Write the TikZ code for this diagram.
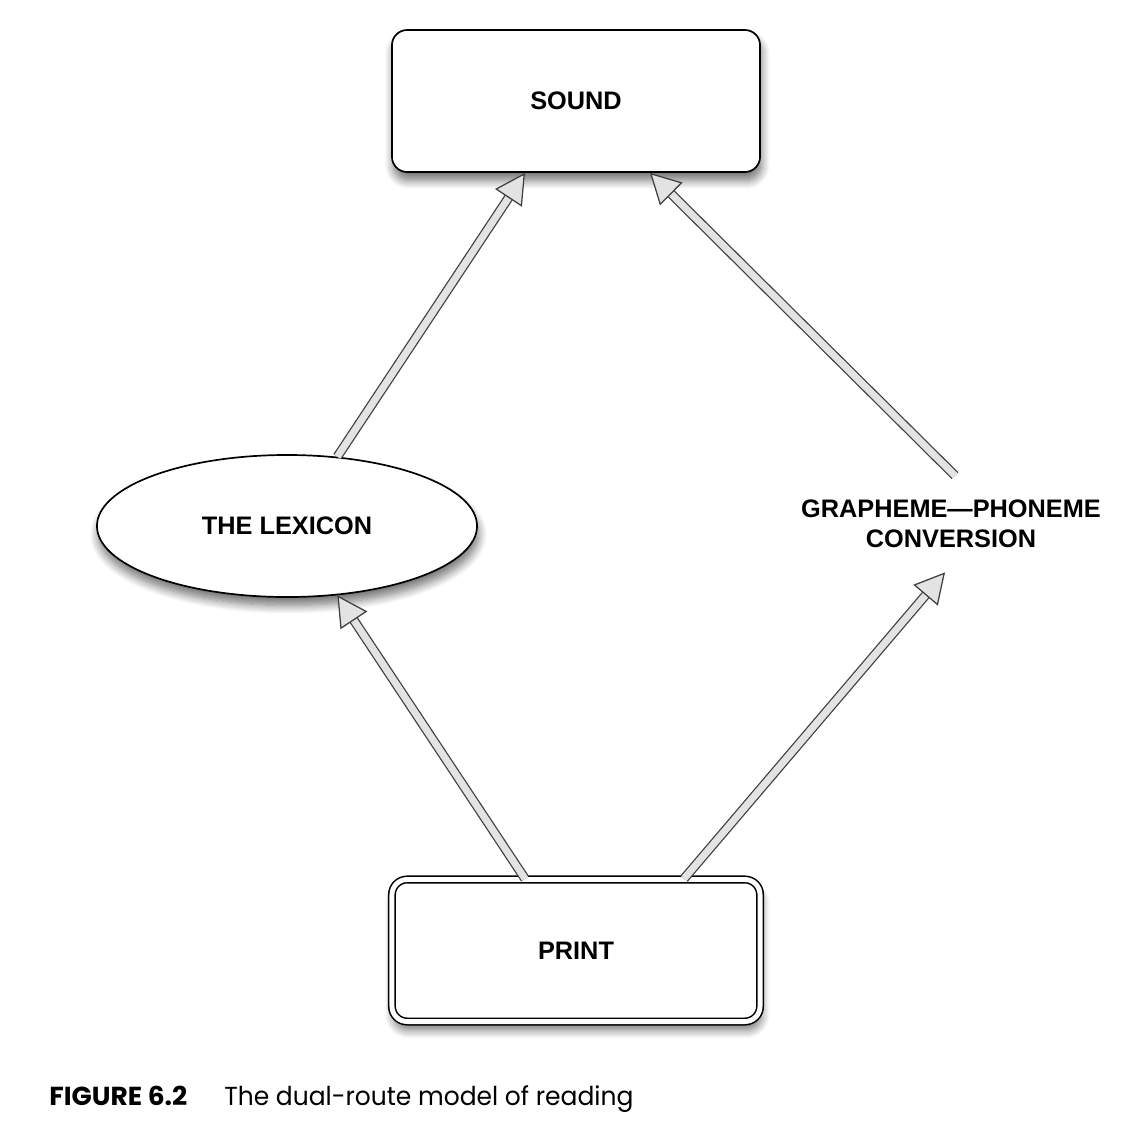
\documentclass[tikz,border=0pt]{standalone}
\usepackage{fontspec}
\setmainfont{Liberation Sans}
\newfontfamily\captionfont{Poppins}[FakeStretch = 0.96, BoldFeatures = {FakeStretch = 1.02}]
\usetikzlibrary{arrows.meta, shapes.geometric, shadows.blur, calc}

\tikzset{
	stage/.style = {draw, line width = 1.2pt, rounded corners = 0.38cm, fill = white,
		minimum width = 9.2cm, minimum height = 3.55cm,
		blur shadow = {shadow xshift = 1pt, shadow yshift = -6pt, shadow blur radius = 6pt,
			shadow blur steps = 10, shadow opacity = 55}},
	route/.style = {draw = gray!50!black, line width = 0.9pt, double = gray!22, double distance = 5pt,
		-{Triangle[open, fill = gray!22, length = 0.75cm, width = 0.8cm]}},
	caption/.style = {anchor = base west, inner sep = 0pt, font = \captionfont\fontsize{18.5}{22}\selectfont}
}

\begin{document}
\begin{tikzpicture}[x = 0.025cm, y = -0.025cm, every node/.style = {font = \fontsize{18}{21.5}\selectfont\bfseries}]

	\useasboundingbox (0, 0) rectangle (1128, 1126);

	% Stages of the model

	\node [stage] (sound) at (576, 101) {SOUND};
	\node [stage, double, double distance = 3.5pt, line width = 1.1pt] (print) at (576, 950.5) {PRINT};
	\node [stage, ellipse, rounded corners = 0pt, minimum width = 9.5cm] (lexicon) at (287, 526) {THE LEXICON};
	\node [align = center, inner sep = 0.6cm] (gpc) at (951, 524) {GRAPHEME---PHONEME\\CONVERSION};

	% The two routes

	\draw [route] (lexicon.54) -- ($(sound.south) + (-51, 0)$);
	\draw [route] ($(gpc.north) + (4, 0)$) -- ($(sound.south) + (74, 0)$);
	\draw [route] ($(print.north) + (-51, 0)$) -- (lexicon.-54);
	\draw [route] ($(print.north) + (108, 0)$) -- ($(gpc.south) + (-6, 0)$);

	% Caption

	\node [caption, font = \captionfont\fontsize{18.5}{22}\selectfont\bfseries] (label) at (49, 1105) {FIGURE 6.2};
	\node [caption] (title) at (224, 1105) {The dual-route model of reading};

\end{tikzpicture}
\end{document}
